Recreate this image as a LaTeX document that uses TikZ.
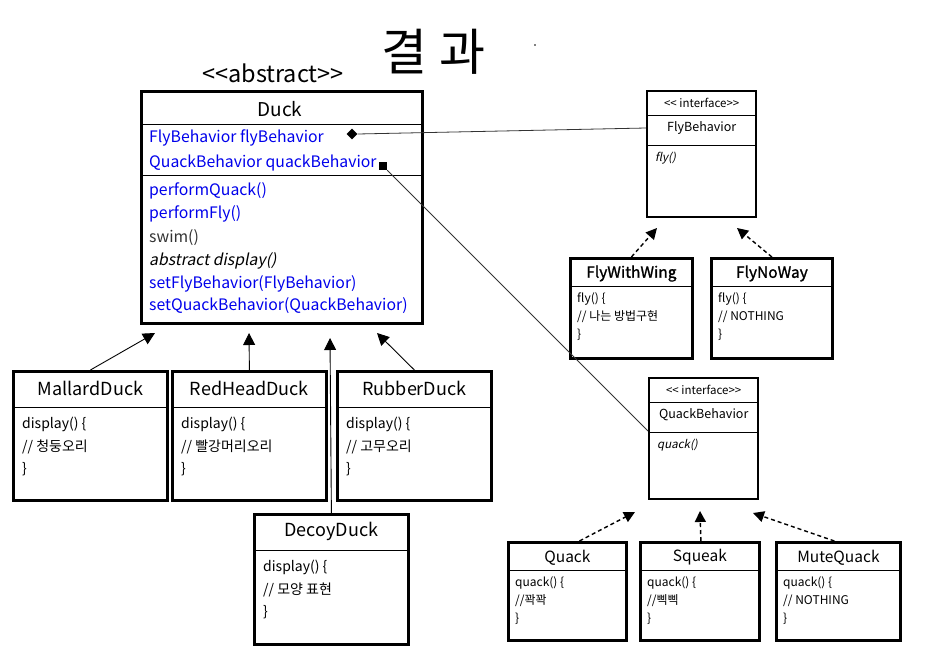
\documentclass[tikz,border=0pt]{standalone}
\usepackage{fontspec}
\setmainfont{Noto Sans CJK KR}[ItalicFont=Noto Sans CJK KR,ItalicFeatures={FakeSlant=0.2},
        BoldFont=Noto Sans CJK KR,BoldFeatures={FakeBold=1.2}]
\usetikzlibrary{arrows.meta,shapes.geometric}
\definecolor{fieldblue}{RGB}{0,0,235}

\tikzset{
  box/.style={draw, line width=2.8pt, anchor=north west, inner sep=0pt},
  sep/.style={line width=0.8pt},
  isa/.style={-{Triangle[length=12pt,width=12pt]}, line width=0.9pt},
  impl/.style={-{Triangle[length=11pt,width=11pt]}, line width=1.4pt, dash pattern=on 4pt off 3pt},
  assoc/.style={line width=0.8pt, black!80},
}

\begin{document}
\begin{tikzpicture}[x=1pt,y=-1pt]
        \useasboundingbox (0,0) rectangle (940,654);
        \node[font=\fontsize{50}{54}\selectfont] (title) at (433,52) {결\hspace{12pt}과};
        \fill (535,45) circle (0.8);
        % abstract Duck
        \node[font=\fontsize{23.5}{26}\selectfont] (stereo) at (273,73) {<{}<abstract>{}>};
        \node[box, minimum width=281pt, minimum height=232pt] (duck) at (140,90) {};
        \draw[sep] ([yshift=-34pt]duck.north west) -- ([yshift=-34pt]duck.north east);
        \draw[sep] ([yshift=-85pt]duck.north west) -- ([yshift=-85pt]duck.north east);
        \node[font=\fontsize{19}{22}\selectfont] (duck-title) at (280,109) {Duck};
        \foreach \Y/\Member/\Col in {138/FlyBehavior flyBehavior/fieldblue, 163/QuackBehavior quackBehavior/fieldblue,
                191/performQuack()/fieldblue, 214/performFly()/fieldblue, 238/swim()/black!80,
                261/\textit{abstract display()}/black, 284/setFlyBehavior(FlyBehavior)/fieldblue,
                306/setQuackBehavior(QuackBehavior)/fieldblue}
        \node[anchor=west, inner sep=0pt, text=\Col, font=\fontsize{15.8}{18}\selectfont] at (149,\Y) {\Member};
        % Duck subclasses
        \foreach \Name/\X/\Y/\H/\Title/\Note in {mallard/12/370/129/MallardDuck/청둥오리, redhead/171/370/129/RedHeadDuck/빨강머리오리,
                rubber/336/370/129/RubberDuck/고무오리, decoy/253/513/130/DecoyDuck/모양 표현}{
        \node[box, minimum width=154pt, minimum height=\H pt] (\Name) at (\X,\Y) {};
        \draw[sep] ([yshift=-37pt]\Name.north west) -- ([yshift=-37pt]\Name.north east);
        \node[font=\fontsize{18}{20}\selectfont] (\Name-title) at ([yshift=-18pt]\Name.north) {\Title};
        \node[anchor=north west, align=left, inner sep=0pt, font=\fontsize{14}{22.5}\selectfont]
                at ([xshift=10pt,yshift=-47pt]\Name.north west) {display() \{\\ // \Note\\ \}};
        }
        % interfaces
        \foreach \Name/\X/\Y/\H/\Title/\Fn in {flyb/646/90/126/FlyBehavior/fly(), quackb/648/377/121/QuackBehavior/quack()}{
        \node[box, line width=2.4pt, minimum width=109pt, minimum height=\H pt] (\Name) at (\X,\Y) {};
        \draw[sep] ([yshift=-25pt]\Name.north west) -- ([yshift=-25pt]\Name.north east);
        \draw[sep] ([yshift=-55pt]\Name.north west) -- ([yshift=-55pt]\Name.north east);
        \node[font=\fontsize{11.5}{13}\selectfont] at ([yshift=-13pt]\Name.north) {<{}< interface>{}>};
        \node[font=\fontsize{12.5}{14}\selectfont] (\Name-title) at ([yshift=-38pt]\Name.north) {\Title};
        \node[anchor=west, inner sep=0pt, font=\fontsize{11.5}{13}\itshape] at ([xshift=9pt,yshift=-68pt]\Name.north west) {\Fn};
        }
        % strategies
        \foreach \Name/\X/\Y/\W/\H/\Title/\Fn/\Note in {flywing/569/257/122/100/\textbf{FlyWithWing}/fly/{// 나는 방법구현},
                flynoway/710/257/121/100/\textbf{FlyNoWay}/fly/{// NOTHING}, quack/507/541/118/98/Quack/quack/{//꽉꽉},
                squeak/639/541/119/98/Squeak/quack/{//삑삑}, mute/775/541/124/98/MuteQuack/quack/{// NOTHING}}{
        \node[box, minimum width=\W pt, minimum height=\H pt] (\Name) at (\X,\Y) {};
        \draw[sep] ([yshift=-29pt]\Name.north west) -- ([yshift=-29pt]\Name.north east);
        \node[font=\fontsize{15.5}{17}\selectfont] (\Name-title) at ([yshift=-16.5pt]\Name.north) {\Title};
        \node[anchor=north west, align=left, inner sep=0pt, font=\fontsize{12}{18}\selectfont]
                at ([xshift=8pt,yshift=-35pt]\Name.north west) {\Fn() \{\\ \Note\\ \}};
        }
        % has-a
        \node[diamond, fill, inner sep=0pt, minimum width=11pt, minimum height=11pt] (flyhas) at (352,134) {};
        \node[fill, inner sep=0pt, minimum size=8pt] (quackhas) at (383,166) {};
        \coordinate (quackin) at ([yshift=-54pt]quackb.north west);
        \draw[assoc] (flyhas.east) -- (flyb.west |- flyb-title);
        \draw[assoc] (quackhas) -- (quackin);
        % is-a
        \foreach \Name/\Tip in {mallard/{(155,333)}, redhead/{(249,333)}, rubber/{(377,333)}, decoy/{(330,338)}}
        \draw[isa] (\Name.north) -- \Tip;
        \foreach \Name/\Shift/\Tip in {flywing/0/{(657,228)}, flynoway/0/{(737,228)}, quack/12/{(635,512)},
                squeak/1/{(700,511)}, mute/-4/{(753,513)}}
        \draw[impl] ([xshift=\Shift pt]\Name.north) -- \Tip;
\end{tikzpicture}
\end{document}
